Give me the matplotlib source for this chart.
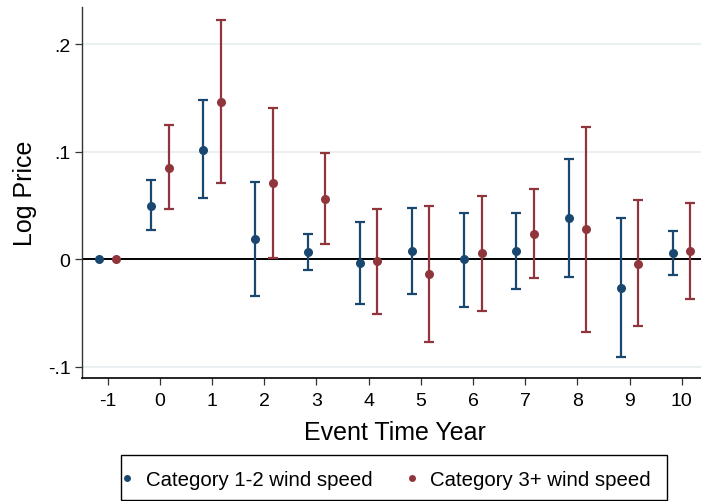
import matplotlib
matplotlib.use("Agg")
import matplotlib.pyplot as plt
from matplotlib.lines import Line2D
from matplotlib.patches import Rectangle
import numpy as np

plt.rcParams['font.family'] = ['Liberation Sans', 'DejaVu Sans']

# Event-study estimates with 95% confidence bounds
years = [-1, 0, 1, 2, 3, 4, 5, 6, 7, 8, 9, 10]

cat12_est = [0.0, 0.050, 0.102, 0.019, 0.007, -0.003, 0.008, 0.0, 0.008, 0.038, -0.027, 0.006]
cat12_lo = [0.0, 0.027, 0.057, -0.034, -0.010, -0.042, -0.032, -0.044, -0.028, -0.016, -0.091, -0.015]
cat12_hi = [0.0, 0.074, 0.148, 0.072, 0.024, 0.035, 0.048, 0.043, 0.043, 0.093, 0.038, 0.026]

cat3_est = [0.0, 0.085, 0.146, 0.071, 0.056, -0.002, -0.014, 0.006, 0.024, 0.028, -0.004, 0.008]
cat3_lo = [0.0, 0.047, 0.071, 0.001, 0.014, -0.051, -0.077, -0.048, -0.017, -0.068, -0.062, -0.037]
cat3_hi = [0.0, 0.125, 0.223, 0.141, 0.099, 0.047, 0.050, 0.059, 0.065, 0.123, 0.055, 0.052]

series_labels = ["Category 1-2 wind speed", "Category 3+ wind speed"]
ytick_vals = [-0.1, 0.0, 0.1, 0.2]
ytick_text = ["-.1", "0", ".1", ".2"]

BLUE = "#1a476f"
RED = "#90353b"
GRID = "#e8eff0"
OFFSET = 1 / 6

W, H = 701, 502
fig = plt.figure(figsize=(W / 100, H / 100), dpi=100)
ax = fig.add_axes([0.1163, 0.2456, 0.8934, 0.7384])

yrs = np.array(years, dtype=float)


def draw_series(x, est, lo, hi, color):
    est = np.array(est)
    lo = np.array(lo)
    hi = np.array(hi)
    has_ci = hi > lo
    ax.errorbar(x[has_ci], est[has_ci],
                yerr=[est[has_ci] - lo[has_ci], hi[has_ci] - est[has_ci]],
                fmt="none", ecolor=color, elinewidth=1.6, capsize=3.4,
                capthick=1.6, zorder=3)
    ax.plot(x, est, "o", color=color, markersize=6.5, zorder=4,
            markeredgewidth=0)


ax.axhline(0, color="black", linewidth=1.4, zorder=2)
for v in ytick_vals:
    ax.axhline(v, color=GRID, linewidth=1.3, zorder=1)

draw_series(yrs - OFFSET, cat12_est, cat12_lo, cat12_hi, BLUE)
draw_series(yrs + OFFSET, cat3_est, cat3_lo, cat3_hi, RED)

ax.set_xlim(-1.5, 10.5)
ax.set_ylim(-0.1101, 0.2347)
ax.set_xticks(years)
ax.set_xticklabels([str(y) for y in years])
ax.set_yticks(ytick_vals)
ax.set_yticklabels(ytick_text)

for side in ("top", "right"):
    ax.spines[side].set_visible(False)
ax.spines["left"].set_color("#333333")
ax.spines["left"].set_linewidth(1.0)
ax.spines["bottom"].set_color("black")
ax.spines["bottom"].set_linewidth(1.2)

ax.tick_params(axis="both", direction="out", length=5, width=0.9,
               color="#333333", labelsize=14)
ax.tick_params(axis="x", pad=5)
ax.tick_params(axis="y", pad=3)

ax.set_xlabel("Event Time Year", fontsize=18)
ax.set_ylabel("Log Price", fontsize=18)
ax.xaxis.set_label_coords(0.5, -0.115)
ax.yaxis.set_label_coords(-0.071, 0.5)

# Legend box drawn in figure pixel coordinates (origin top-left)
def fx(px):
    return px / W


def fy(py):
    return (H - py) / H


fig.patches.append(Rectangle((fx(121), fy(500.5)), fx(667.3) - fx(121),
                             fy(456) - fy(500.5), transform=fig.transFigure,
                             facecolor="white", edgecolor="black",
                             linewidth=1.0, zorder=5))
legend_y = 478.5
for color, label, mx, tx in ((BLUE, series_labels[0], 126.7, 146),
                             (RED, series_labels[1], 412.3, 430)):
    fig.add_artist(Line2D([fx(mx)], [fy(legend_y)], linestyle="none",
                          marker="o", markersize=5, markeredgewidth=0,
                          color=color, transform=fig.transFigure, zorder=6))
    fig.text(fx(tx), fy(legend_y), label, fontsize=14.7, ha="left",
             va="center_baseline", zorder=6)

fig.savefig("out.png", dpi=100)
